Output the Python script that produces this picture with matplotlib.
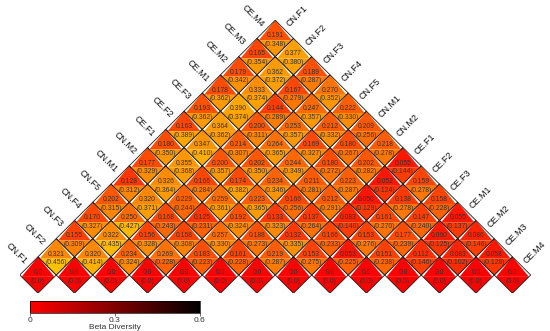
import numpy as np
import matplotlib
matplotlib.use("Agg")
import matplotlib.pyplot as plt
from matplotlib.patches import Polygon
from matplotlib.colors import LinearSegmentedColormap, Normalize
import matplotlib.colorbar as mcolorbar

plt.rcParams['font.family'] = ['Liberation Sans', 'DejaVu Sans']

groups = ['CN.F1', 'CN.F2', 'CN.F3', 'CN.F4', 'CN.F5', 'CN.M1', 'CN.M2',
          'CE.F1', 'CE.F2', 'CE.F3', 'CE.M1', 'CE.M2', 'CE.M3', 'CE.M4']

# row h (counted from the bottom diagonal), entry k -> pair (groups[k + h], groups[k])
first_vals = [
    [0.0] * 14,
    [0.321, 0.320, 0.234, 0.269, 0.183, 0.161, 0.219, 0.153, 0.053, 0.151, 0.112, 0.083, 0.058],
    [0.155, 0.322, 0.156, 0.158, 0.257, 0.188, 0.132, 0.166, 0.153, 0.177, 0.060, 0.086],
    [0.170, 0.250, 0.168, 0.125, 0.192, 0.133, 0.137, 0.083, 0.161, 0.147, 0.055],
    [0.202, 0.320, 0.229, 0.259, 0.223, 0.166, 0.212, 0.050, 0.138, 0.158],
    [0.128, 0.326, 0.166, 0.174, 0.234, 0.211, 0.223, 0.052, 0.159],
    [0.177, 0.355, 0.200, 0.202, 0.244, 0.180, 0.202, 0.055],
    [0.180, 0.347, 0.214, 0.264, 0.169, 0.180, 0.218],
    [0.163, 0.364, 0.200, 0.253, 0.212, 0.209],
    [0.193, 0.390, 0.144, 0.247, 0.222],
    [0.178, 0.333, 0.167, 0.270],
    [0.179, 0.362, 0.189],
    [0.165, 0.377],
    [0.191],
]
second_vals = [
    [0.0] * 14,
    [0.456, 0.414, 0.324, 0.228, 0.223, 0.228, 0.287, 0.275, 0.225, 0.238, 0.146, 0.102, 0.128],
    [0.309, 0.435, 0.328, 0.308, 0.330, 0.273, 0.335, 0.233, 0.276, 0.239, 0.125, 0.146],
    [0.327, 0.427, 0.243, 0.231, 0.324, 0.323, 0.264, 0.140, 0.270, 0.240, 0.137],
    [0.315, 0.371, 0.244, 0.361, 0.365, 0.256, 0.291, 0.129, 0.278, 0.228],
    [0.312, 0.364, 0.284, 0.382, 0.346, 0.281, 0.287, 0.124, 0.278],
    [0.329, 0.368, 0.357, 0.350, 0.349, 0.272, 0.282, 0.144],
    [0.350, 0.410, 0.307, 0.365, 0.327, 0.267, 0.278],
    [0.389, 0.362, 0.311, 0.357, 0.332, 0.256],
    [0.362, 0.374, 0.289, 0.357, 0.330],
    [0.362, 0.374, 0.279, 0.352],
    [0.342, 0.372, 0.287],
    [0.354, 0.380],
    [0.348],
]

n = len(groups)
cell_cmap = plt.get_cmap('autumn')
norm = Normalize(vmin=0, vmax=0.6)

fig = plt.figure(figsize=(5.5, 3.31), dpi=100)
ax = fig.add_axes([0.0359, 0.1142, 0.929, 0.8248])
ax.set_xlim(-1, 2 * n - 1)
ax.set_ylim(-1, n)
ax.axis('off')

split = -0.1
for h in range(n):
    for k in range(n - h):
        a, b = k + h, k
        x, y = a + b, a - b
        v1 = first_vals[h][k]
        v2 = second_vals[h][k]
        # upper part coloured by the first value, lower by the second
        top = Polygon([(x - 1 - split, y + split), (x, y + 1), (x + 1 + split, y + split)],
                      closed=True, facecolor=cell_cmap(norm(v1)), edgecolor='none')
        bot = Polygon([(x - 1 - split, y + split), (x + 1 + split, y + split), (x, y - 1)],
                      closed=True, facecolor=cell_cmap(norm(v2)), edgecolor='none')
        ax.add_patch(top)
        ax.add_patch(bot)
        outline = Polygon([(x - 1, y), (x, y + 1), (x + 1, y), (x, y - 1)],
                          closed=True, facecolor='none', edgecolor='#1a1a1a', linewidth=0.6)
        ax.add_patch(outline)
        if h == 0:
            s1, s2 = '0.0', '(0.0)'
        else:
            s1, s2 = '%.3f' % v1, '(%.3f)' % v2
        ax.text(x, y + 0.15, s1, ha='center', va='center', fontsize=4.9, color='#333333')
        ax.text(x, y - 0.33, s2, ha='center', va='center', fontsize=4.9, color='#333333')

# labels along the two upper edges
for a in range(n):
    ax.text(a - 0.7, a + 0.7, groups[a], rotation=-45, rotation_mode='anchor',
            ha='right', va='center', fontsize=6.5, color='#111111')
for b in range(n):
    ax.text(n - 1 + b + 0.7, n - 1 - b + 0.7, groups[b], rotation=45, rotation_mode='anchor',
            ha='left', va='center', fontsize=6.5, color='#111111')

# colour bar
bar_cmap = LinearSegmentedColormap.from_list('red_black', ['#ff0000', '#000000'])
cax = fig.add_axes([0.0545, 0.0544, 0.309, 0.0363])
cb = mcolorbar.ColorbarBase(cax, cmap=bar_cmap, norm=norm, orientation='horizontal')
cb.set_ticks([0, 0.3, 0.6])
cb.set_ticklabels(['0', '0.3', '0.6'])
cb.outline.set_linewidth(0.5)
cax.tick_params(labelsize=6, length=2, width=0.5, pad=1, colors='#333333')
cb.set_label('Beta Diversity', fontsize=6, labelpad=0, color='#333333')

fig.savefig('out.png', dpi=100)
